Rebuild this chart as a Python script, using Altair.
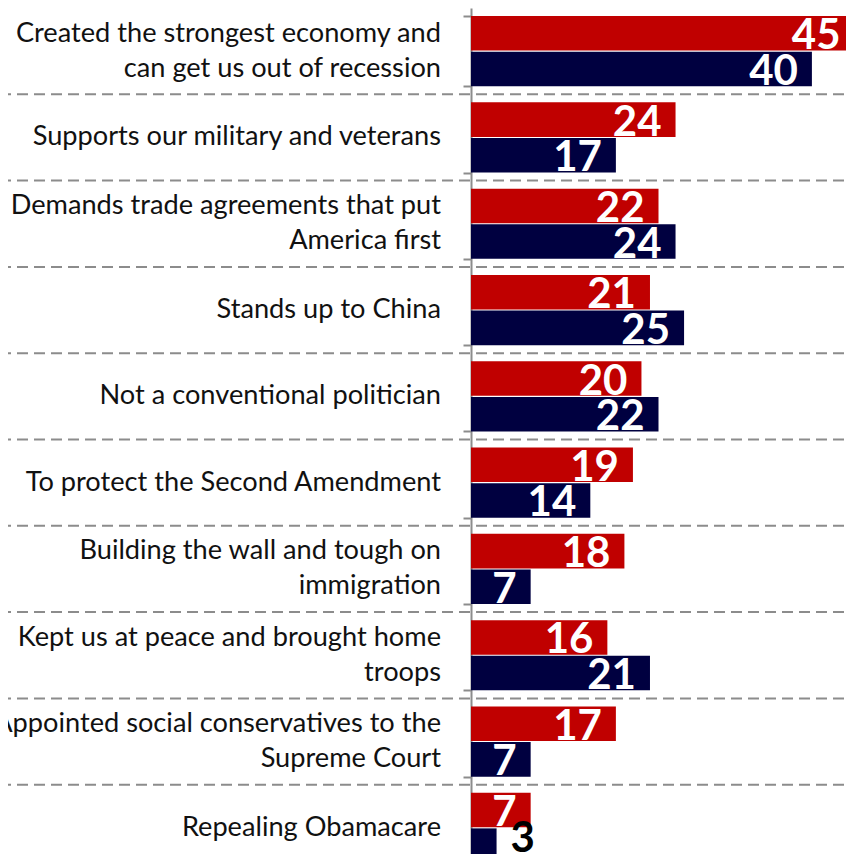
import altair as alt
import pandas as pd

categories = [
    "Created the strongest economy and|can get us out of recession",
    "Supports our military and veterans",
    "Demands trade agreements that put|America first",
    "Stands up to China",
    "Not a conventional politician",
    "To protect the Second Amendment",
    "Building the wall and tough on|immigration",
    "Kept us at peace and brought home|troops",
    "Appointed social conservatives to the|Supreme Court",
    "Repealing Obamacare",
]
series = ["Group A", "Group B"]
red_values = [45, 24, 22, 21, 20, 19, 18, 16, 17, 7]
navy_values = [40, 17, 24, 25, 22, 14, 7, 21, 7, 3]
colors = ["#C00000", "#000040"]

rows = []
for c, r, n in zip(categories, red_values, navy_values):
    rows.append({"cat": c, "series": series[0], "value": r})
    rows.append({"cat": c, "series": series[1], "value": n})
df = pd.DataFrame(rows)
cat_df = pd.DataFrame({"cat": categories})
sep_df = pd.DataFrame({"cat": categories[:-1]})

RANGE = 863
P = 0.186
STEP = RANGE / len(categories)
y_scale = alt.Scale(domain=categories, range=[0, RANGE], paddingInner=P, paddingOuter=P / 2)
y_axis = alt.Axis(
    title=None,
    labels=False,
    tickBand="extent",
    tickSize=8,
    tickWidth=2,
    tickColor="#8c8c8c",
    domainColor="#8c8c8c",
    domainWidth=2,
    grid=False,
)


def yenc(band=None):
    if band is None:
        return alt.Y("cat:N", sort=categories, scale=y_scale, axis=y_axis)
    return alt.Y("cat:N", sort=categories, scale=y_scale, axis=y_axis, bandPosition=band)


x_enc = alt.X("value:Q", scale=alt.Scale(domain=[0, 44], nice=False, zero=True), axis=None)
yoff = alt.YOffset("series:N", sort=series, scale=alt.Scale(domain=series, paddingInner=0.03))

base = alt.Chart(df)

bars = base.mark_bar(clip=True).encode(
    x=x_enc,
    y=yenc(),
    yOffset=yoff,
    color=alt.Color("series:N", scale=alt.Scale(domain=series, range=colors), legend=None),
)

inside = base.transform_filter("datum.value >= 5").mark_text(
    align="right", baseline="alphabetic", dx=-14, dy=16,
    font="Lato", fontWeight="bold", fontSize=42, color="white",
).encode(x=x_enc, y=yenc(), yOffset=yoff, text=alt.Text("value:Q"))

outside = base.transform_filter("datum.value < 5").mark_text(
    align="left", baseline="alphabetic", dx=14, dy=6,
    font="Lato", fontWeight="bold", fontSize=42, color="black",
).encode(x=x_enc, y=yenc(), yOffset=yoff, text=alt.Text("value:Q"))

label_style = dict(align="right", baseline="middle", font="Lato", fontSize=27.2,
                   color="#111111", lineBreak="|", lineHeight=35)
labels_one = alt.Chart(cat_df).transform_filter("indexof(datum.cat, '|') < 0").mark_text(
    **label_style
).encode(y=yenc(0.5), x=alt.value(-30), text="cat:N")
labels_two = alt.Chart(cat_df).transform_filter("indexof(datum.cat, '|') >= 0").mark_text(
    dy=-17.5, **label_style
).encode(y=yenc(0.5), x=alt.value(-30), text="cat:N")

seps = alt.Chart(sep_df).mark_rule(
    strokeDash=[11, 6], color="#8c8c8c", strokeWidth=2, yOffset=STEP * P / 2
).encode(
    y=yenc(1),
    x=alt.value(-471),
    x2=alt.value(400),
)

chart = alt.layer(seps, bars, inside, outside, labels_one, labels_two).properties(
    width=375,
    height=846,
    autosize=alt.AutoSizeParams(type="none"),
    padding={"left": 463, "top": 0, "right": 0, "bottom": 0},
    background="white",
).configure_view(stroke=None)

chart.save("out.html", embed_options={"renderer": "svg", "actions": False})
